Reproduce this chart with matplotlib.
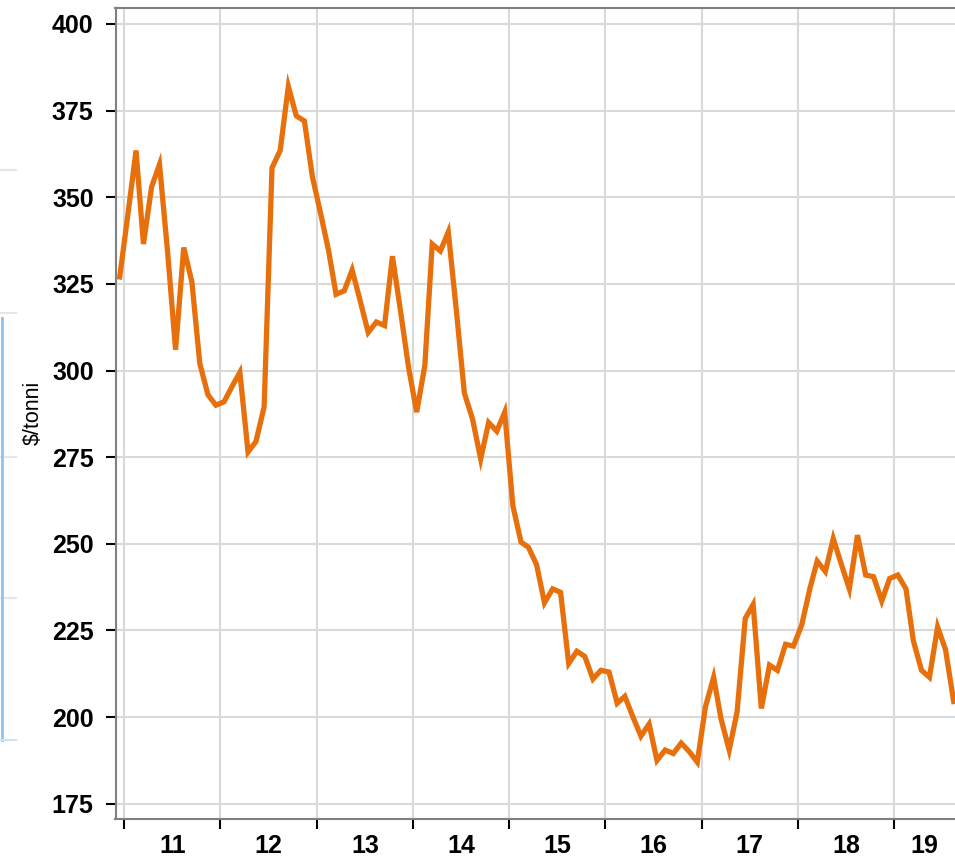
import matplotlib
matplotlib.use("Agg")
import matplotlib.pyplot as plt
import matplotlib.dates as mdates
from matplotlib.lines import Line2D
import pandas as pd

plt.rcParams["font.family"] = ["Liberation Sans", "DejaVu Sans"]

# monthly prices, Dec 2010 .. Aug 2019 ($/tonne)
start_month = "2010-12-01"
prices = [
    327, 345, 363.5, 336.5, 353, 359.5, 334, 306, 335.5, 325.5,
    302, 293, 290, 291, 295.5, 299.5, 276.5, 279.5, 289.5, 358.5,
    363.5, 382, 373.5, 372, 356, 345.5, 334.5, 322, 323, 329,
    320, 311, 314, 313, 333, 317, 301, 288, 301.5, 336.5,
    334.5, 340, 317, 293.5, 286, 274.5, 285, 282.5, 288, 261,
    250.5, 249, 244, 233, 237, 236, 215.5, 219, 217.5, 211,
    213.5, 213, 204, 206, 200, 194.5, 198, 187.5, 190.5, 189.5,
    192.5, 190, 187, 203, 211.5, 199.5, 190.5, 201.5, 228.5, 232.5,
    202.5, 215, 213.5, 221, 220.5, 226.5, 237, 245, 242, 251.5,
    244, 237, 252.5, 241, 240.5, 233.5, 240, 241, 237, 222,
    213.5, 211.5, 226, 219.5, 204.5,
]
years = list(range(2011, 2020))
y_ticks = [175, 200, 225, 250, 275, 300, 325, 350, 375, 400]
y_label = "$/tonni"

dates = pd.date_range(start_month, periods=len(prices), freq="MS") + pd.Timedelta(days=14)
x_start = pd.Timestamp("2010-11-29")
x_end = pd.Timestamp("2019-08-20")

fig = plt.figure(figsize=(9.55, 8.58), dpi=100)
ax = fig.add_axes([115.5 / 955, 39 / 858, 1 - 115.5 / 955, (819 - 7.7) / 858])

ax.plot(dates, prices, color="#E8700C", lw=3.8, solid_joinstyle="miter", zorder=3)

ax.set_ylim(170.6, 404.7)
ax.set_xlim(x_start, x_end)
ax.set_yticks(y_ticks)

# year boundaries as major ticks, labels centred in the visible part of each year
starts = [pd.Timestamp(f"{y}-01-01") for y in years]
ends = [min(pd.Timestamp(f"{y + 1}-01-01"), x_end) for y in years]
mids = [mdates.date2num(s) + (mdates.date2num(e) - mdates.date2num(s)) / 2
        for s, e in zip(starts, ends)]
ax.set_xticks([mdates.date2num(s) for s in starts])
ax.set_xticklabels([])
ax.set_xticks(mids, minor=True)
ax.set_xticklabels([str(y)[2:] for y in years], minor=True)

ax.grid(True, which="major", color="#d9d9d9", lw=1.5, zorder=0)
ax.tick_params(axis="y", which="major", length=7.2, width=1.5, color="black",
               pad=8.5, labelsize=18)
ax.tick_params(axis="x", which="major", length=7.2, width=1.5, color="black")
ax.tick_params(axis="x", which="minor", length=0, pad=11, labelsize=18)
for lab in ax.get_yticklabels() + ax.get_xticklabels(minor=True):
    lab.set_fontweight("bold")

for side in ["left", "bottom", "top"]:
    ax.spines[side].set_color("#808080")
    ax.spines[side].set_linewidth(1.5)
ax.spines["right"].set_visible(False)

ax.set_ylabel(y_label, fontsize=15.5)
ax.yaxis.set_label_coords(-0.0855, 0.5)

# faint page elements at the left edge of the screenshot
for yy in [170, 313, 457, 598]:
    fig.add_artist(Line2D([0, 16 / 955], [1 - yy / 858] * 2, color="#e6e6e6", lw=1.5))
fig.add_artist(Line2D([2 / 955] * 2, [1 - 318 / 858, 1 - 740 / 858], color="#8fc1f0", lw=2))
fig.add_artist(Line2D([0, 16 / 955], [1 - 740 / 858] * 2, color="#cfe3f7", lw=1.5))

fig.savefig("out.png", dpi=100)
